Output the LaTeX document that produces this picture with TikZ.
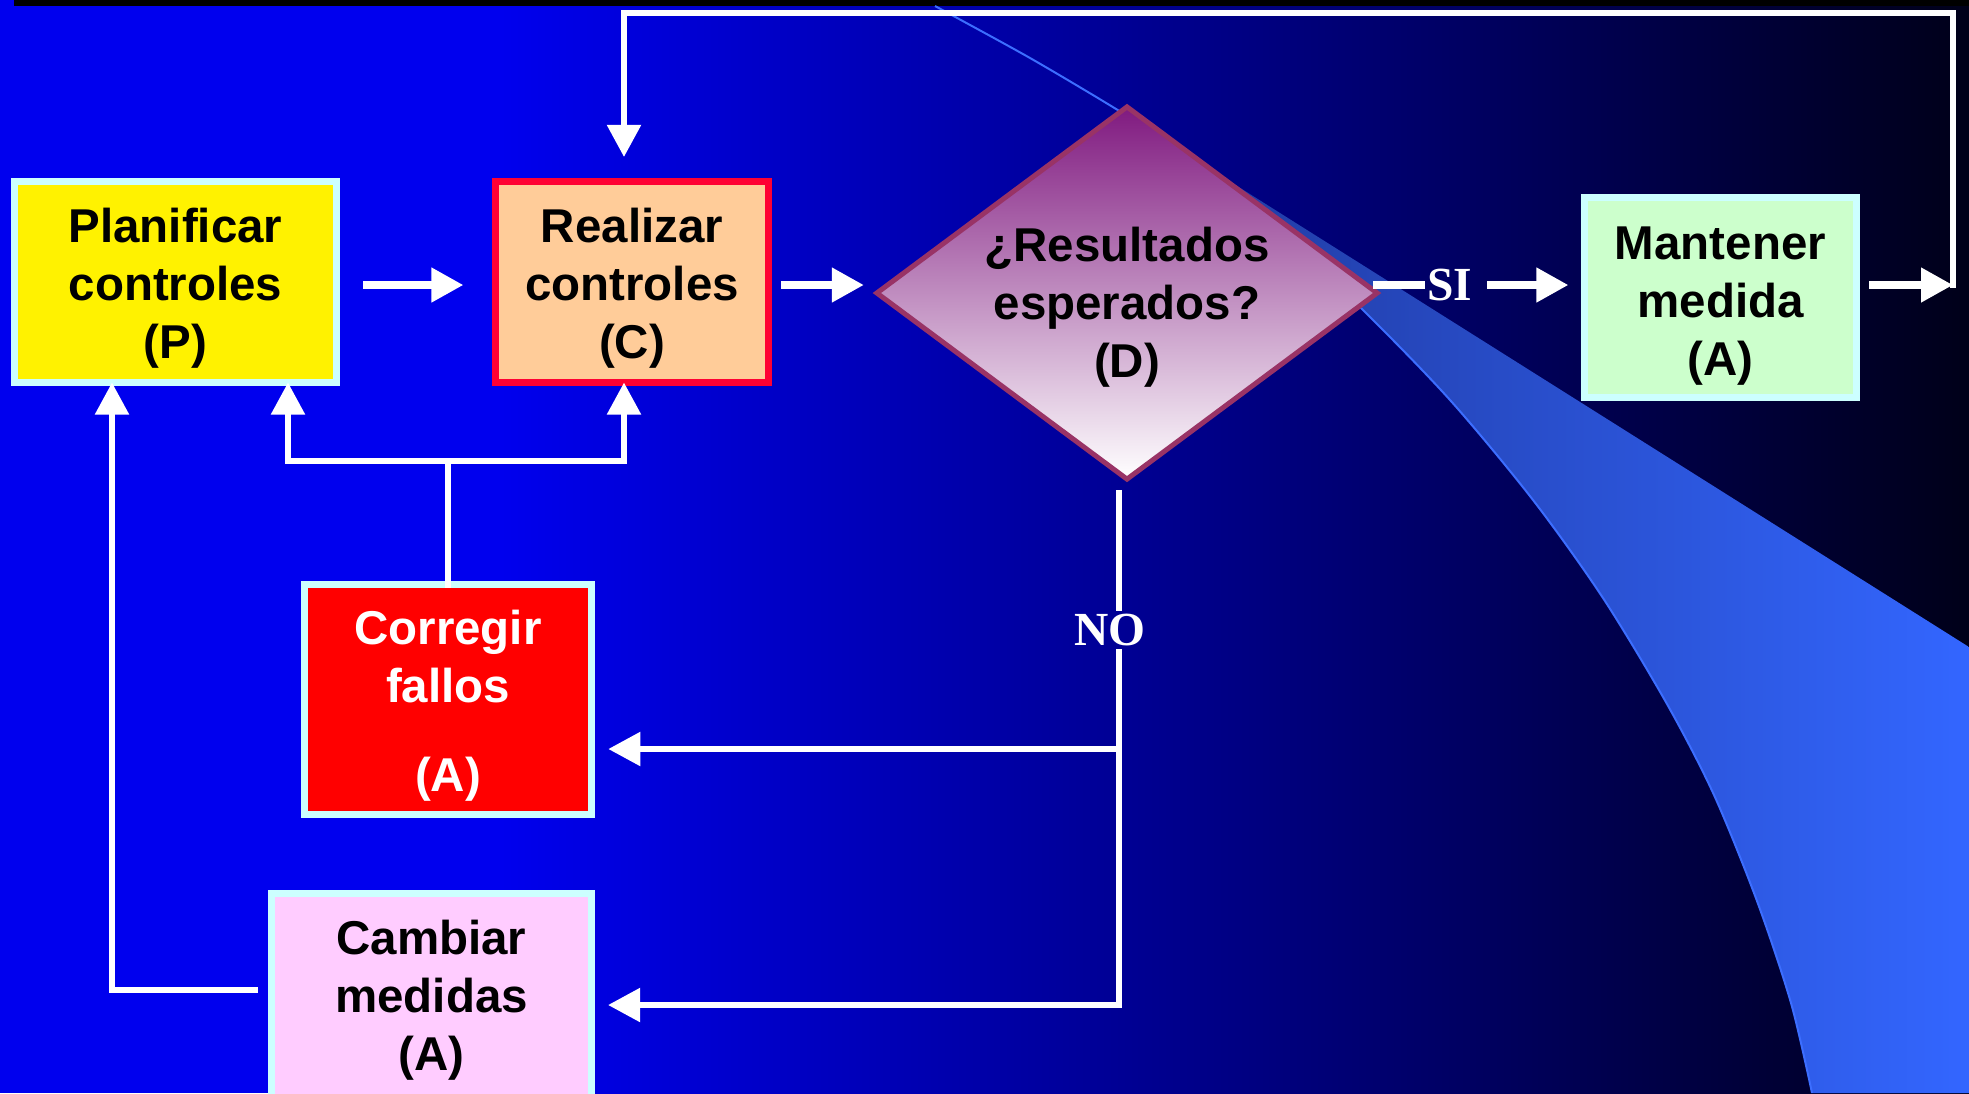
\documentclass[tikz,border=0pt]{standalone}
\usepackage{fontspec}
\setmainfont{Liberation Sans}
\newfontfamily\labelfont{Liberation Serif}
\usetikzlibrary{shapes.geometric,arrows.meta}
\definecolor{bgblue}{RGB}{0,0,238}
\definecolor{bgdark}{RGB}{0,0,25}
\definecolor{boxcyan}{RGB}{204,255,255}
\definecolor{peach}{RGB}{255,204,153}
\definecolor{crimson}{RGB}{255,0,51}
\definecolor{mint}{RGB}{204,255,204}
\definecolor{pinkish}{RGB}{255,204,255}
\definecolor{dborder}{RGB}{153,51,102}
\definecolor{dtop}{RGB}{128,26,128}
\definecolor{swdark}{RGB}{32,58,160}
\definecolor{swlight}{RGB}{51,102,255}
\definecolor{swline}{RGB}{60,110,255}
\newcommand{\topgap}[1]{\rule{0pt}{#1}}

\begin{document}
\begin{tikzpicture}[x=0.01cm, y=-0.01cm,
	box/.style={draw=boxcyan, line width=0.07cm, inner sep=0pt, outer sep=0pt, align=center, font=\bfseries\fontsize{13.5}{16.5}\selectfont},
	line/.style={draw=white, line width=0.055cm, line cap=rect},
	arr/.style={line, -{Triangle[length=0.32cm, width=0.33cm]}},
	rowarr/.style={arr, line width=0.075cm},
	yesno/.style={text=white, inner sep=1.5pt, font=\labelfont\bfseries\fontsize{13.5}{16.5}\selectfont}]
	
	% background and swoosh
	\path[use as bounding box, clip] (0,0) rectangle (1969,1093);
	\fill[bgblue] (0,0) rectangle (500,1093);
	\shade[left color=bgblue, right color=bgdark] (500,0) rectangle (1969,1093);
	\fill[black] (14,0) rectangle (1969,6);
	\shade[left color=swdark, right color=swlight] plot[smooth] coordinates {(1180,150) (1250,202) (1360,307) (1450,400) (1533,500) (1603,598) (1667,704) (1714,795) (1757,901) (1791,1003) (1812,1093)} -- (1969,1093) -- (1969,647) -- cycle;
	\draw[swline, line width=0.02cm] plot[smooth] coordinates {(935,6) (1030,58) (1121,112) (1180,150) (1250,202) (1360,307) (1450,400) (1533,500) (1603,598) (1667,704) (1714,795) (1757,901) (1791,1003) (1812,1093)};
	
	% boxes
	\node[box, fill=yellow, minimum width=3.21cm, minimum height=2.01cm] (P) at (175.5,282) {\topgap{0.47cm}Planificar\\controles\\(P)};
	\node[box, draw=crimson, fill=peach, minimum width=2.73cm, minimum height=2.01cm] (C) at (632,282) {\topgap{0.47cm}Realizar\\controles\\(C)};
	\node[diamond, aspect=1.34, draw=dborder, line width=0.05cm, top color=dtop, bottom color=white, inner sep=0pt, inner xsep=-0.2cm, outer sep=0pt, minimum width=5cm, minimum height=3.72cm, align=center, font=\bfseries\fontsize{13.5}{16.5}\selectfont] (D) at (1127,293) {\topgap{0.63cm}¿Resultados\\esperados?\\(D)};
	\node[box, fill=mint, minimum width=2.72cm, minimum height=2cm] (M) at (1720.5,297.5) {\topgap{0.5cm}Mantener\\medida\\(A)};
	\node[box, fill=red, text=white, minimum width=2.875cm, minimum height=2.29cm] (F) at (448,699.5) {\topgap{0.47cm}Corregir\\fallos\\[0.31cm](A)};
	\node[box, fill=pinkish, minimum width=3.2cm, minimum height=2.07cm] (A) at (431.5,997) {\topgap{0.4cm}Cambiar\\medidas\\(A)};
	\node[yesno] (si) at (1450,285) {SI};
	\node[yesno] (no) at (1110,630) {NO};
	
	\coordinate (row) at (0,285);
	\coordinate (rt) at (1953,285);
	\coordinate (tl) at (624,13);
	\coordinate (jl) at (288,461);
	\coordinate (jr) at (624,461);
	\coordinate (bl) at (112,990);
	\coordinate (nc) at (1119,749);
	\coordinate (nb) at (1119,1005);
	
	% connectors
	\draw[rowarr, shorten <=0.31cm, shorten >=0.32cm] (P.east |- row) -- (C.west |- row);
	\draw[rowarr, shorten <=0.16cm, shorten >=0.13cm] (C.east |- row) -- (D.west |- row);
	\draw[line, line width=0.075cm] (D.east |- row) -- (si.west);
	\draw[rowarr, shorten <=0.12cm, shorten >=0.16cm] (si.east) -- (M.west |- row);
	\draw[rowarr, shorten <=0.165cm] (M.east |- row) -- (rt);
	\draw[arr, shorten >=0.245cm] (rt) |- (tl) -- (tl |- C.north);
	\draw[line] (F.north) -- (F.north |- jl);
	\draw[arr] (jr) -- (jl) -- (jl |- P.south);
	\draw[arr] (jr) -- (jr |- C.south);
	\draw[arr, shorten <=0.165cm] (A.west |- bl) -- (bl) -- (bl |- P.south);
	\draw[line, shorten <=0.14cm] (nc |- D.south) -- (nc |- no.north);
	\draw[arr, shorten >=0.165cm] (nc |- no.south) -- (nb) -- (nb -| A.east);
	\draw[arr, shorten >=0.165cm] (nc) -- (nc -| F.east);
\end{tikzpicture}
\end{document}
